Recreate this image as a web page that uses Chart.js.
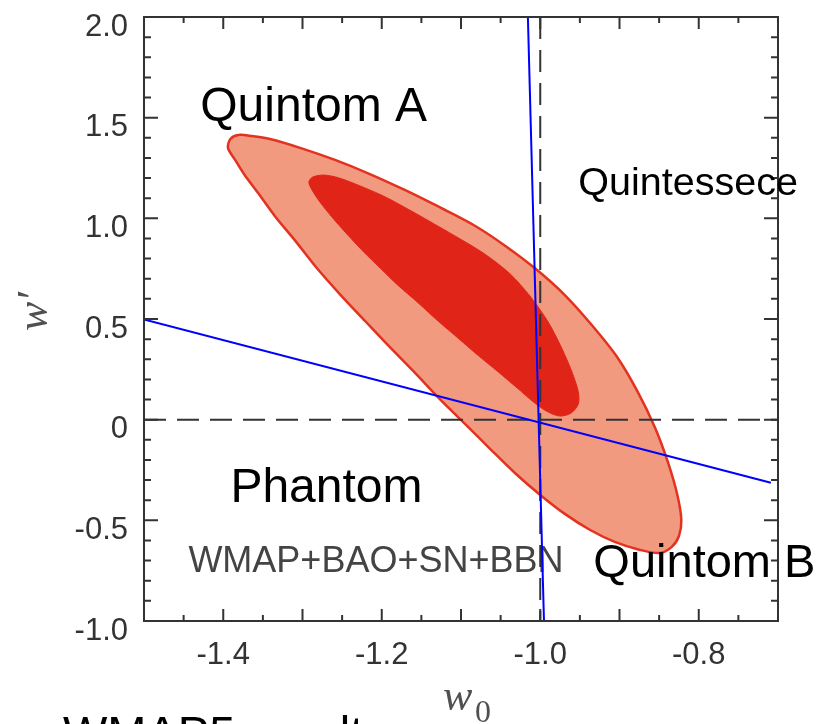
<!DOCTYPE html>
<html>
<head>
    <title>WMAP5 result</title>
    <script src="https://cdn.jsdelivr.net/npm/chart.js"></script>
    <style>
        body {
            margin: 0;
            background: #fff;
        }

        canvas {
            display: block;
        }
    </style>
</head>
<body>
    <canvas id="wmap-chart" width="818" height="724"></canvas>

    <script>
        // axes
        const xRange = [-1.5, -0.7];
        const yRange = [-1.0, 2.0];
        const xTickValues = [-1.4, -1.2, -1.0, -0.8];
        const xTickLabels = ['-1.4', '-1.2', '-1.0', '-0.8'];
        const yTickValues = [2.0, 1.5, 1.0, 0.5, 0, -0.5, -1.0];
        const yTickLabels = ['2.0', '1.5', '1.0', '0.5', '0', '-0.5', '-1.0'];

        // outer (95%) contour
        const outerW0 = [-1.127, -1.082, -1.044, -1.007, -0.969, -0.935, -0.903, -0.877, -0.855, -0.839,
                         -0.827, -0.822, -0.825, -0.834, -0.849, -0.874, -0.906, -0.937, -0.969, -1.000,
                         -1.032, -1.063, -1.095, -1.127, -1.158, -1.190, -1.221, -1.253, -1.282, -1.309,
                         -1.335, -1.356, -1.373, -1.385, -1.394, -1.391, -1.381, -1.364, -1.341, -1.303,
                         -1.259, -1.215, -1.171, -1.127];
        const outerWp = [1.056, 0.962, 0.863, 0.753, 0.619, 0.470, 0.311, 0.138, -0.041, -0.210,
                         -0.374, -0.498, -0.578, -0.632, -0.662, -0.647, -0.607, -0.548, -0.468, -0.374,
                         -0.265, -0.146, -0.021, 0.103, 0.232, 0.361, 0.490, 0.624, 0.753, 0.888,
                         1.012, 1.126, 1.215, 1.290, 1.350, 1.394, 1.414, 1.409, 1.394, 1.350,
                         1.290, 1.220, 1.141, 1.056];

        // inner (68%) contour
        const innerW0 = [-1.156, -1.114, -1.072, -1.038, -1.013, -0.990, -0.973, -0.960, -0.952, -0.952,
                         -0.961, -0.975, -0.990, -1.007, -1.029, -1.053, -1.079, -1.104, -1.129, -1.154,
                         -1.180, -1.202, -1.224, -1.244, -1.263, -1.278, -1.288, -1.292, -1.287, -1.274,
                         -1.258, -1.240, -1.198, -1.156];
        const innerWp = [1.022, 0.927, 0.828, 0.724, 0.614, 0.485, 0.356, 0.237, 0.138, 0.078,
                         0.033, 0.018, 0.038, 0.083, 0.157, 0.237, 0.321, 0.406, 0.490, 0.580,
                         0.669, 0.753, 0.838, 0.922, 1.007, 1.081, 1.141, 1.181, 1.205, 1.215,
                         1.205, 1.181, 1.111, 1.022];

        // blue lines and the dashed w=-1 cross
        const steepLineW0 = [-1.0156, -0.9953];
        const steepLineWp = [2.0, -1.0];
        const flatLineW0 = [-1.5, -0.709];
        const flatLineWp = [0.4975, -0.313];
        const dashHW0 = [-1.5, -0.7];
        const dashHWp = [0, 0];
        const dashVW0 = [-1.0, -1.0];
        const dashVWp = [2.0, -1.0];

        // region labels
        const noteTexts = ['Quintom A', 'Quintessece', 'Phantom', 'Quintom B'];
        const noteW0 = [-1.429, -0.952, -1.391, -0.933];
        const noteWp = [1.483, 1.114, -0.408, -0.781];
        const noteSizes = [48, 39.5, 48, 47];

        const comboText = 'WMAP+BAO+SN+BBN';
        const comboW0 = -1.444;
        const comboWp = -0.756;

        function toPoints(xs, ys) {
            return xs.map((v, i) => ({ x: v, y: ys[i] }));
        }

        const sans = '"Liberation Sans", Arial, sans-serif';
        const serif = '"Liberation Serif", "DejaVu Serif", serif';

        const decorations = {
            id: 'decorations',
            beforeDatasetsDraw(chart) {
                const { ctx, scales: { x, y } } = chart;
                ctx.save();
                ctx.fillStyle = '#444';
                ctx.font = '36px ' + sans;
                ctx.textBaseline = 'alphabetic';
                ctx.fillText(comboText, x.getPixelForValue(comboW0), y.getPixelForValue(comboWp));
                ctx.restore();
            },
            afterDatasetsDraw(chart) {
                const { ctx, chartArea: a, scales: { x, y } } = chart;
                ctx.save();
                ctx.strokeStyle = '#333';
                ctx.lineWidth = 2;

                // inward ticks on all four sides
                for (let i = 0; i <= 16; i++) {
                    const px = x.getPixelForValue(xRange[0] + i * 0.05);
                    const len = i % 2 === 0 ? 12 : 6;
                    ctx.beginPath();
                    ctx.moveTo(px, a.bottom);
                    ctx.lineTo(px, a.bottom - len);
                    ctx.moveTo(px, a.top);
                    ctx.lineTo(px, a.top + len);
                    ctx.stroke();
                }
                for (let i = 0; i <= 30; i++) {
                    const py = y.getPixelForValue(yRange[0] + i * 0.1);
                    const len = i % 5 === 0 ? 14 : 7;
                    ctx.beginPath();
                    ctx.moveTo(a.left, py);
                    ctx.lineTo(a.left + len, py);
                    ctx.moveTo(a.right, py);
                    ctx.lineTo(a.right - len, py);
                    ctx.stroke();
                }
                ctx.strokeRect(a.left, a.top, a.right - a.left, a.bottom - a.top);

                // region labels
                ctx.fillStyle = '#000';
                ctx.textBaseline = 'alphabetic';
                noteTexts.forEach((t, i) => {
                    ctx.font = noteSizes[i] + 'px ' + sans;
                    ctx.fillText(t, x.getPixelForValue(noteW0[i]), y.getPixelForValue(noteWp[i]));
                });

                // axis titles
                ctx.fillStyle = '#505050';
                ctx.font = 'italic 44px ' + serif;
                ctx.fillText('w', a.left + 299, 710);
                ctx.font = '32px ' + serif;
                ctx.fillText('0', a.left + 331, 722);

                ctx.save();
                ctx.translate(a.left - 97, 331);
                ctx.rotate(-Math.PI / 2);
                ctx.font = 'italic 44px ' + serif;
                ctx.fillText('w\u2032', 0, 0);
                ctx.restore();

                // caption below the plot
                ctx.fillStyle = '#000';
                ctx.font = '47px ' + sans;
                ctx.fillText('WMAP5 result', 63, 749);
                ctx.restore();
            }
        };

        const ctx = document.getElementById('wmap-chart').getContext('2d');
        const chart = new Chart(ctx, {
            type: 'scatter',
            data: {
                datasets: [
                    {
                        label: 'outer',
                        data: toPoints(outerW0, outerWp),
                        showLine: true,
                        fill: 'shape',
                        backgroundColor: '#F29A7F',
                        borderColor: '#E3321F',
                        borderWidth: 2.5,
                        tension: 0.3,
                        pointRadius: 0,
                        order: 4
                    },
                    {
                        label: 'inner',
                        data: toPoints(innerW0, innerWp),
                        showLine: true,
                        fill: 'shape',
                        backgroundColor: '#E02518',
                        borderColor: '#E02518',
                        borderWidth: 1,
                        tension: 0.3,
                        pointRadius: 0,
                        order: 3
                    },
                    {
                        label: 'w=-1 h',
                        data: toPoints(dashHW0, dashHWp),
                        showLine: true,
                        borderColor: '#333',
                        borderWidth: 2,
                        borderDash: [22, 11],
                        pointRadius: 0,
                        order: 2
                    },
                    {
                        label: 'w=-1 v',
                        data: toPoints(dashVW0, dashVWp),
                        showLine: true,
                        borderColor: '#333',
                        borderWidth: 2,
                        borderDash: [22, 11],
                        pointRadius: 0,
                        order: 2
                    },
                    {
                        label: 'steep',
                        data: toPoints(steepLineW0, steepLineWp),
                        showLine: true,
                        borderColor: '#0000FF',
                        borderWidth: 2,
                        pointRadius: 0,
                        order: 1
                    },
                    {
                        label: 'flat',
                        data: toPoints(flatLineW0, flatLineWp),
                        showLine: true,
                        borderColor: '#0000FF',
                        borderWidth: 2,
                        pointRadius: 0,
                        order: 1
                    }
                ]
            },
            options: {
                responsive: false,
                animation: false,
                layout: {
                    padding: { left: 0, right: 40, top: 17, bottom: 0 }
                },
                plugins: {
                    legend: { display: false },
                    tooltip: { enabled: false }
                },
                scales: {
                    x: {
                        type: 'linear',
                        min: xRange[0],
                        max: xRange[1],
                        afterFit: scale => {
                            scale.height = 103;
                            scale.paddingLeft = 0;
                            scale.paddingRight = 0;
                        },
                        afterBuildTicks: scale => {
                            scale.ticks = xTickValues.map(v => ({ value: v }));
                        },
                        grid: { display: false, drawTicks: false },
                        border: { display: false },
                        ticks: {
                            padding: 16,
                            color: '#333',
                            font: { family: sans, size: 31 },
                            callback: (v, i) => xTickLabels[i]
                        }
                    },
                    y: {
                        type: 'linear',
                        min: yRange[0],
                        max: yRange[1],
                        afterFit: scale => {
                            scale.width = 144;
                            scale.paddingTop = 0;
                            scale.paddingBottom = 0;
                        },
                        afterBuildTicks: scale => {
                            scale.ticks = yTickValues.map(v => ({ value: v }));
                        },
                        grid: { display: false, drawTicks: false },
                        border: { display: false },
                        ticks: {
                            padding: 16,
                            labelOffset: 10,
                            color: '#333',
                            font: { family: sans, size: 31, lineHeight: 1 },
                            callback: (v, i) => yTickLabels[i]
                        }
                    }
                }
            },
            plugins: [decorations]
        });
    </script>
</body>
</html>
